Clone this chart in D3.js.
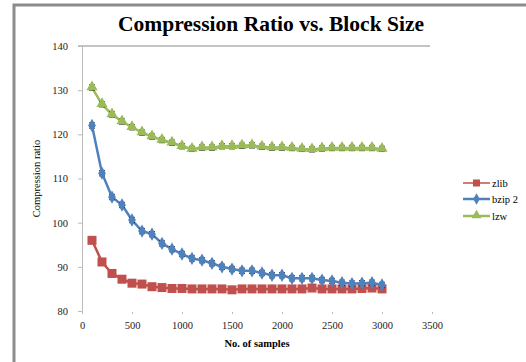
<!DOCTYPE html>
<html lang="en">
<head>
<meta charset="utf-8">
<title>Compression Ratio vs. Block Size</title>
<script src="https://cdn.jsdelivr.net/npm/d3@7"></script>
<style>
  body { margin: 0; background: #fff; }
  svg { display: block; font-family: "Liberation Serif", "DejaVu Serif", serif; }
</style>
</head>
<body>
<div id="chart"></div>
<script>
// block sizes (no. of samples)
var samples = d3.range(100, 3001, 100);

var zlib = [96.0, 91.1, 88.5, 87.2, 86.3, 86.1, 85.5, 85.3, 85.1, 85.1,
            85.0, 85.0, 85.0, 85.0, 84.8, 85.0, 85.0, 85.0, 85.0, 85.0,
            85.0, 85.0, 85.2, 85.0, 85.0, 85.0, 85.0, 85.1, 85.2, 85.0];
var bzip2 = [122.0, 111.2, 105.8, 104.0, 100.6, 98.1, 97.4, 95.3, 94.0, 92.9,
             91.9, 91.5, 90.8, 90.0, 89.5, 89.1, 89.1, 88.6, 88.1, 88.1,
             87.4, 87.4, 87.4, 87.0, 86.8, 86.4, 86.2, 86.3, 86.4, 85.9];
var lzw = [130.6, 126.8, 124.5, 122.9, 121.6, 120.4, 119.5, 118.7, 118.1, 117.3,
           116.7, 117.0, 117.0, 117.3, 117.3, 117.4, 117.5, 117.2, 117.0, 117.0,
           116.9, 116.7, 116.6, 116.8, 116.9, 116.9, 116.9, 116.9, 116.9, 116.7];
var errSize = 0.6;

var seriesNames = ["zlib", "bzip 2", "lzw"];
var seriesColors = ["#C0504D", "#4F81BD", "#9BBB59"];
var xTicks = [0, 500, 1000, 1500, 2000, 2500, 3000, 3500];
var yTicks = [80, 90, 100, 110, 120, 130, 140];

var width = 526, height = 362;
var svg = d3.select("#chart").append("svg")
    .attr("width", width)
    .attr("height", height);

// chart frame (grey border, only top and left visible)
svg.append("rect")
    .attr("x", 14).attr("y", 5)
    .attr("width", 540).attr("height", 400)
    .attr("fill", "#fff")
    .attr("stroke", "#8c8c8c")
    .attr("stroke-width", 3);

var x = d3.scaleLinear().domain([0, 3500]).range([82, 432]);
var y = d3.scaleLinear().domain([80, 140]).range([311, 46]);

// title
svg.append("text")
    .attr("x", 271).attr("y", 31)
    .attr("text-anchor", "middle")
    .style("font-size", "21.5px")
    .style("font-weight", "bold")
    .text("Compression Ratio vs. Block Size");

// top line at 140
svg.append("line")
    .attr("x1", 78).attr("x2", x(3500) - 2)
    .attr("y1", y(140)).attr("y2", y(140))
    .attr("stroke", "#888").attr("stroke-width", 1);

// y axis
var yAxis = svg.append("g")
    .attr("transform", "translate(" + x(0) + ",0)")
    .call(d3.axisLeft(y).tickValues(yTicks).tickSize(4).tickPadding(10));
yAxis.attr("font-family", "Liberation Serif").attr("font-size", 10.5);
yAxis.select(".domain").attr("stroke", "#bbb");
yAxis.selectAll(".tick line").attr("stroke", "#bbb");
yAxis.selectAll("text").attr("fill", "#222");

// x axis (no line, just small tick marks)
var xAxis = svg.append("g")
    .attr("transform", "translate(0," + (y(80) + 1) + ")")
    .call(d3.axisBottom(x).tickValues(xTicks).tickFormat(d3.format("d")).tickSize(2).tickPadding(8));
xAxis.attr("font-family", "Liberation Serif").attr("font-size", 10.5);
xAxis.select(".domain").remove();
xAxis.selectAll(".tick line").attr("stroke", "#bbb");
xAxis.selectAll("text").attr("fill", "#222");

// axis titles
svg.append("text")
    .attr("transform", "translate(40," + ((y(80) + y(140)) / 2) + ") rotate(-90)")
    .attr("text-anchor", "middle")
    .style("font-size", "10.5px")
    .text("Compression ratio");

svg.append("text")
    .attr("x", 257).attr("y", 347)
    .attr("text-anchor", "middle")
    .style("font-size", "10.5px")
    .style("font-weight", "bold")
    .text("No. of samples");

var allSeries = [zlib, bzip2, lzw];
var line = d3.line()
    .x(function (d, i) { return x(samples[i]); })
    .y(function (d) { return y(d); });

function drawMarker(g, k, cx, cy, s) {
  if (k === 0) {
    g.append("rect")
      .attr("x", cx - s).attr("y", cy - s)
      .attr("width", 2 * s).attr("height", 2 * s)
      .attr("fill", seriesColors[k]);
  } else if (k === 1) {
    g.append("path")
      .attr("d", d3.symbol().type(d3.symbolDiamond).size(s * s * 3.2)())
      .attr("transform", "translate(" + cx + "," + cy + ")")
      .attr("fill", seriesColors[k]);
  } else {
    g.append("path")
      .attr("d", d3.symbol().type(d3.symbolTriangle).size(s * s * 3.4)())
      .attr("transform", "translate(" + cx + "," + (cy - 0.5) + ")")
      .attr("fill", seriesColors[k]);
  }
}

allSeries.forEach(function (vals, k) {
  var g = svg.append("g");
  g.append("path")
    .datum(vals)
    .attr("d", line)
    .attr("fill", "none")
    .attr("stroke", seriesColors[k])
    .attr("stroke-width", 2.5);

  // error bars
  vals.forEach(function (v, i) {
    var cx = x(samples[i]);
    g.append("line")
      .attr("x1", cx).attr("x2", cx)
      .attr("y1", y(v + errSize)).attr("y2", y(v - errSize))
      .attr("stroke", "#000").attr("stroke-width", 0.8);
    [v + errSize, v - errSize].forEach(function (e) {
      g.append("line")
        .attr("x1", cx - 3).attr("x2", cx + 3)
        .attr("y1", y(e)).attr("y2", y(e))
        .attr("stroke", "#000").attr("stroke-width", 0.8);
    });
  });

  vals.forEach(function (v, i) {
    drawMarker(g, k, x(samples[i]), y(v), k === 0 ? 4.5 : 4);
  });
});

// legend
var legendY = [183, 199, 216];
seriesNames.forEach(function (name, k) {
  var g = svg.append("g");
  g.append("line")
    .attr("x1", 463).attr("x2", 490)
    .attr("y1", legendY[k]).attr("y2", legendY[k])
    .attr("stroke", seriesColors[k])
    .attr("stroke-width", k === 0 ? 1.5 : 2.5);
  drawMarker(g, k, 476.5, legendY[k], 3.5);
  g.append("text")
    .attr("x", 492).attr("y", legendY[k] + 3.5)
    .style("font-size", "10.5px")
    .text(name);
});
</script>
</body>
</html>
